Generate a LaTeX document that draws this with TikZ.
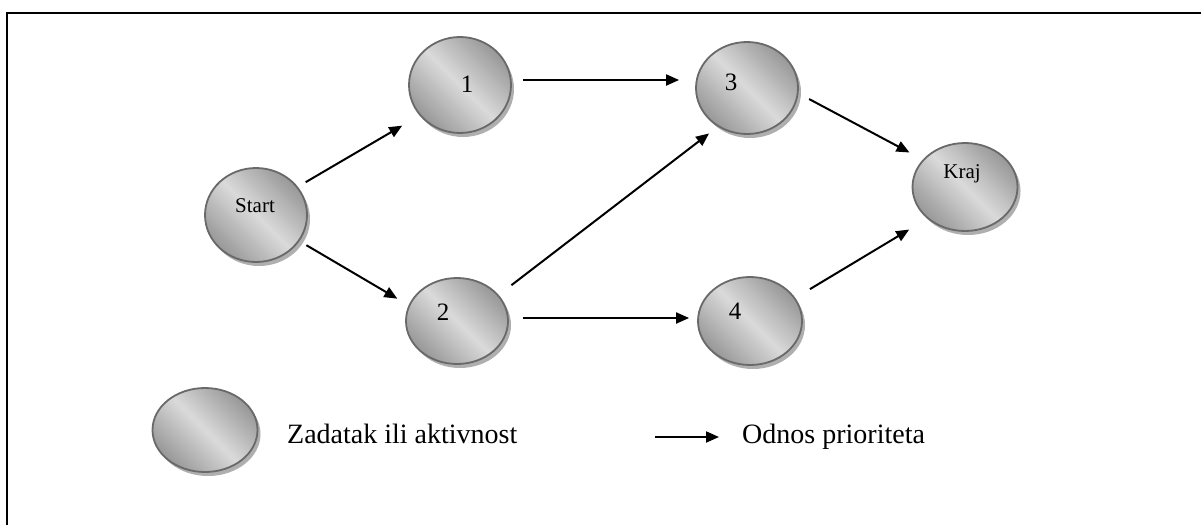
\documentclass[tikz,border=0pt]{standalone}
\usepackage{fontspec}
\setmainfont{Liberation Serif}
\usetikzlibrary{arrows.meta,shapes.geometric,shadows}
\definecolor{nodedark}{RGB}{152,152,152}
\definecolor{nodelight}{RGB}{218,218,218}
\definecolor{nodeedge}{RGB}{105,105,105}
\definecolor{shadowgray}{RGB}{175,175,175}
\pgfdeclarehorizontalshading{nodeshade}{100bp}{color(0bp)=(nodedark); color(25bp)=(nodedark); color(50bp)=(nodelight); color(75bp)=(nodedark); color(100bp)=(nodedark)}
\tikzset{
  task/.style={ellipse, draw=nodeedge, line width=1.8pt, shading=nodeshade, shading angle=45,
    minimum width=102pt, minimum height=92pt, inner sep=0pt,
    drop shadow={shadow xshift=3pt, shadow yshift=-4pt, fill=shadowgray, opacity=1}},
  numlbl/.style={font=\fontsize{25}{25}\selectfont, anchor=base, inner sep=0pt},
  wordlbl/.style={font=\fontsize{21}{21}\selectfont, anchor=base, inner sep=0pt},
  legendtext/.style={font=\fontsize{28}{28}\selectfont, anchor=base west, inner sep=0pt},
  arr/.style={line width=2pt, -{Triangle[length=13pt,width=11pt]}},
}
\begin{document}
\begin{tikzpicture}[x=1pt,y=-1pt]
\useasboundingbox (0,0) rectangle (1201,525);
\draw[line width=2.5pt, line join=miter] (7,525) -- (7,13) -- (1201,13);

\node[task, minimum height=94pt] (s) at (256,215) {};
\node[task, minimum height=96pt] (n1) at (460,85) {};
\node[task] (n3) at (747,88) {};
\node[task, minimum height=86pt] (n2) at (457,321) {};
\node[task, minimum width=104pt, minimum height=88pt] (n4) at (750,321) {};
\node[task, minimum width=105pt, minimum height=88pt] (k) at (965,187) {};
\node[task, minimum width=105pt, minimum height=84pt] (lg) at (205,430) {};

\node[wordlbl] (ts) at (255,212) {Start};
\node[numlbl] (t1) at (467,92) {1};
\node[numlbl] (t3) at (731,90) {3};
\node[numlbl] (t2) at (443,320) {2};
\node[numlbl] (t4) at (735,319) {4};
\node[wordlbl] (tk) at (962,178) {Kraj};

\draw[arr, shorten <=9pt, shorten >=20pt] (s.34) -- (n1.217);
\draw[arr, shorten <=8pt, shorten >=13pt] (s.-31) -- (n2.162);
\draw[arr] ([xshift=11pt,yshift=5pt]n1.east) -- ([xshift=-16pt,yshift=8pt]n3.west);
\draw[arr, shorten <=16pt, shorten >=11pt] (n2.32) -- (n3.233);
\draw[arr] ([xshift=14pt,yshift=3pt]n2.east) -- ([xshift=-8pt,yshift=3pt]n4.west);
\draw[arr, shorten <=12pt, shorten >=15pt] (n3.-6) -- (k.147);
\draw[arr, shorten <=17pt, shorten >=21pt] (n4.27) -- (k.220);

\node[legendtext] (tz) at (287,443) {Zadatak ili aktivnost};
\coordinate (la) at (655,437);
\coordinate (lb) at (719,437);
\draw[arr] (la) -- (lb);
\node[legendtext] (to) at (742,443) {Odnos prioriteta};
\end{tikzpicture}
\end{document}
